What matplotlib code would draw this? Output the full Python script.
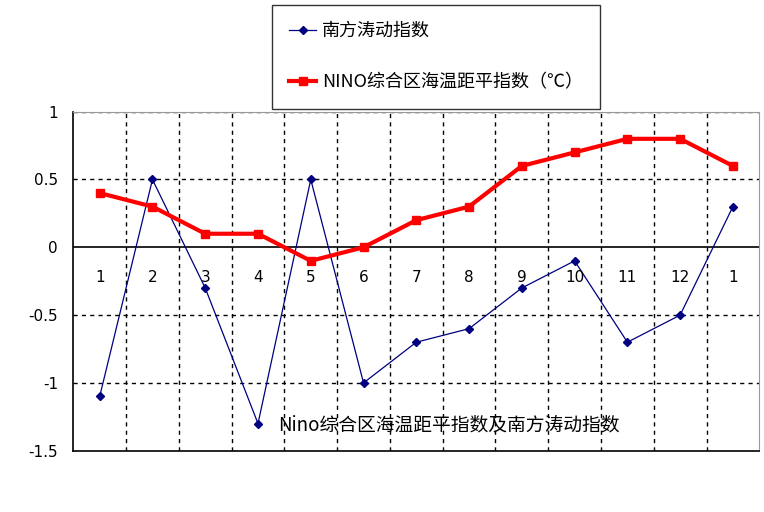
import matplotlib
matplotlib.use("Agg")
import matplotlib.pyplot as plt
from matplotlib.lines import Line2D

plt.rcParams['font.family'] = ['Noto Sans CJK SC', 'DejaVu Sans']

months = ['1', '2', '3', '4', '5', '6', '7', '8', '9', '10', '11', '12', '1']
soi = [-1.1, 0.5, -0.3, -1.3, 0.5, -1.0, -0.7, -0.6, -0.3, -0.1, -0.7, -0.5, 0.3]
nino = [0.4, 0.3, 0.1, 0.1, -0.1, 0.0, 0.2, 0.3, 0.6, 0.7, 0.8, 0.8, 0.6]
yticks = [1, 0.5, 0, -0.5, -1, -1.5]
ytick_labels = ['1', '0.5', '0', '-0.5', '-1', '-1.5']

soi_name = '南方涛动指数'
nino_name = 'NINO综合区海温距平指数（℃）'
title = 'Nino综合区海温距平指数及南方涛动指数'

fig = plt.figure(figsize=(7.64, 5.12), dpi=100)
ax = fig.add_axes([73.3 / 764, 1 - 450.7 / 512, 686 / 764, 339 / 512])

x = list(range(len(months)))
ax.plot(x, soi, color='#000080', lw=0.9, marker='D', ms=4, zorder=4)
ax.plot(x, nino, color='#ff0000', lw=3, marker='s', ms=6, zorder=5)

ax.set_xlim(-0.5, len(months) - 0.5)
ax.set_ylim(-1.5, 1)

# dashed grid, solid zero line
for v in [1, 0.5, -0.5, -1]:
    ax.axhline(v, color='black', lw=1, ls=(0, (3, 3)), zorder=1)
ax.axhline(0, color='black', lw=1.2, zorder=2)
for i in range(1, len(months)):
    ax.axvline(i - 0.5, color='black', lw=1, ls=(0, (3, 3)), zorder=1)

# month labels sit just under the zero line
for i, m in enumerate(months):
    ax.text(i, -0.22, m, ha='center', va='center', fontsize=11,
            family='DejaVu Sans', zorder=6)

ax.set_xticks([])
ax.set_yticks(yticks)
ax.set_yticklabels(ytick_labels, family='DejaVu Sans', fontsize=11)
ax.tick_params(axis='y', length=0, pad=11)

for s in ['top', 'right']:
    ax.spines[s].set_color('#999999')
for s in ['left', 'bottom']:
    ax.spines[s].set_color('black')
    ax.spines[s].set_linewidth(1.2)

ax.text(0.547, 0.075, title, transform=ax.transAxes, ha='center', va='center',
        fontsize=13.5)

# legend box above the plot
handles = [Line2D([], [], color='#000080', lw=0.9, marker='D', ms=4),
           Line2D([], [], color='#ff0000', lw=3, marker='s', ms=6)]
leg = fig.legend(handles, [soi_name, nino_name], loc='upper left',
                 bbox_to_anchor=(272 / 764, 1 - 5 / 512), fontsize=13,
                 frameon=True, fancybox=False, edgecolor='black',
                 handlelength=1.5, labelspacing=1.86, borderpad=0.95,
                 handletextpad=0.3, borderaxespad=0)
leg.get_frame().set_linewidth(1)

fig.savefig('out.png', dpi=100)
